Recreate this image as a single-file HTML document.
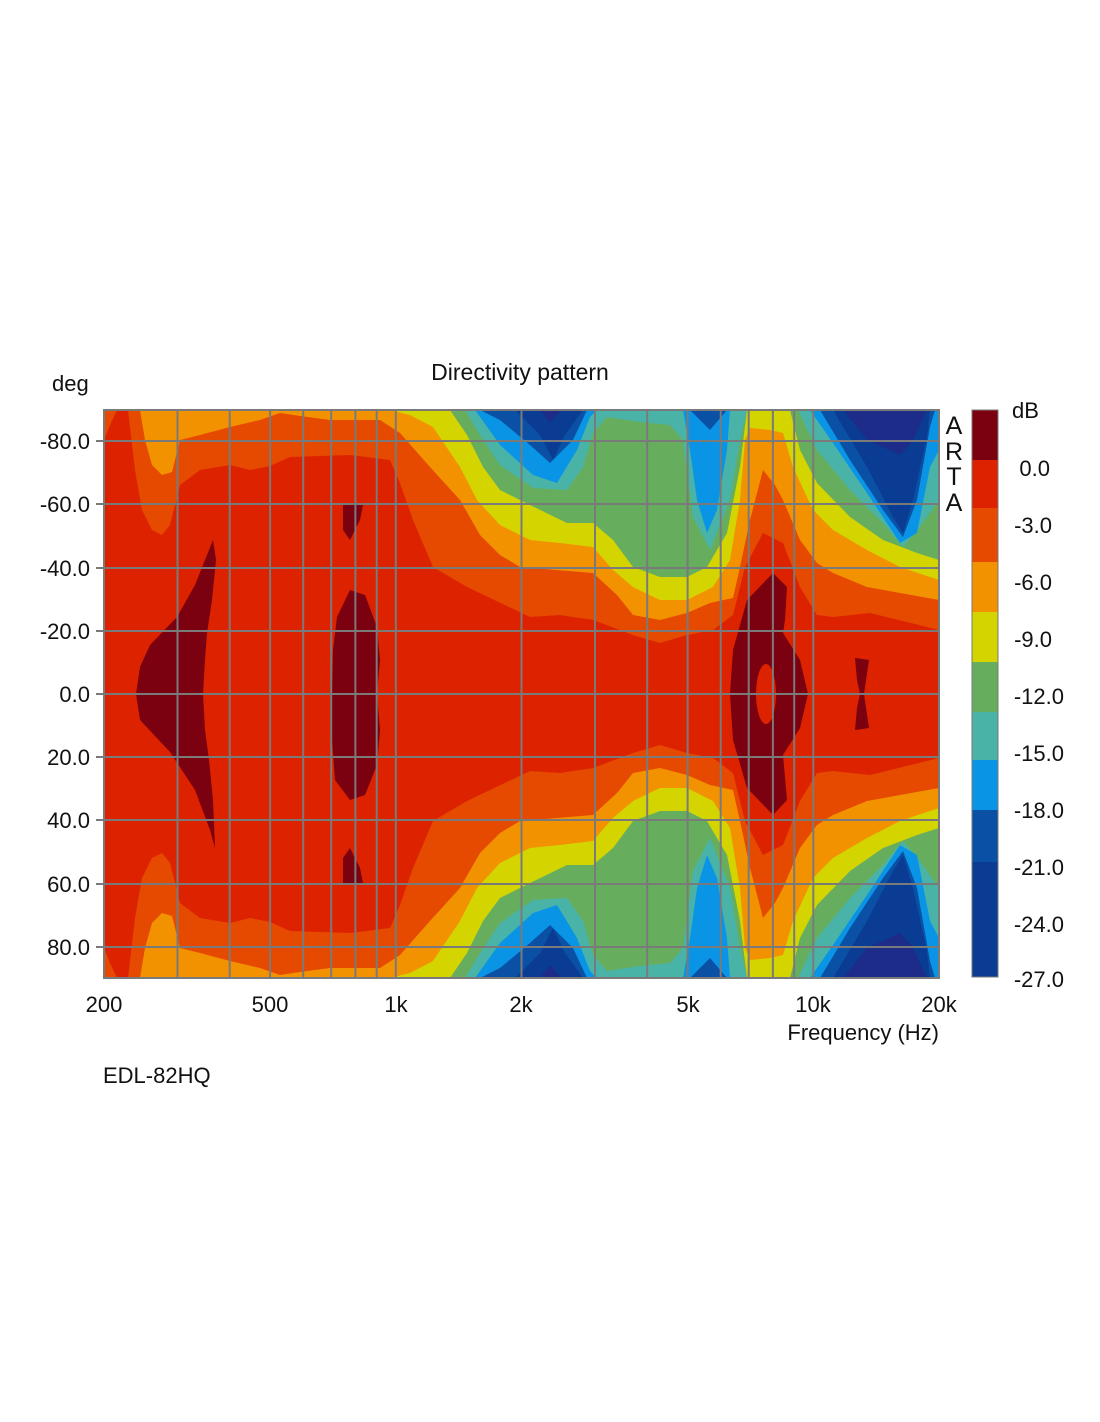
<!DOCTYPE html>
<html><head><meta charset="utf-8"><style>
html,body{margin:0;padding:0;background:#fff;}
svg{display:block;}
text{font-family:"Liberation Sans",Arial,sans-serif;fill:#111;}
</style></head><body>
<svg width="1100" height="1422" viewBox="0 0 1100 1422" xmlns="http://www.w3.org/2000/svg">
<defs>
<clipPath id="pc"><rect x="104" y="410" width="835" height="568"/></clipPath>
<g id="up" transform="translate(0,410)">
<polygon fill="#e54a00" points="104,0 104,30 110,15 117,0"/>
<polygon fill="#e54a00" points="128,0 135,60 142,100 152,120 162,125 170,115 180,75 200,60 230,55 250,60 270,56 290,47 350,45 390,50 400,73 413,110 433,157 467,177 530,207 560,205 593,210 633,225 660,233 687,225 713,220 733,205 745,157 763,123 783,133 800,177 817,205 833,207 870,203 939,220 939,0"/>
<polygon fill="#f39200" points="140,0 145,30 152,55 162,65 172,62 180,30 200,25 230,17 260,10 280,3 300,6 330,10 380,10 400,23 430,57 460,90 480,125 500,145 520,157 593,163 617,185 633,205 660,210 687,203 710,193 733,188 740,157 750,110 763,60 775,75 783,90 800,130 817,153 833,163 867,177 939,190 939,0"/>
<polygon fill="#d4d400" points="390,0 410,5 433,17 460,57 477,90 500,115 530,130 560,133 593,137 613,160 633,177 660,190 687,190 713,177 730,150 740,90 745,30 750,18 770,20 783,23 793,57 813,100 833,120 867,140 900,157 939,170 939,0"/>
<polygon fill="#66ae5e" points="450,0 467,25 483,57 500,80 530,95 567,113 593,113 613,130 633,157 660,167 687,167 707,157 727,123 740,57 747,0"/>
<polygon fill="#66ae5e" points="790,0 800,40 817,73 850,107 883,130 917,143 939,150 939,0"/>
<polygon fill="#4ab3a8" points="465,0 480,25 500,55 533,78 567,80 583,57 593,23 607,7 640,12 670,15 683,30 693,107 710,140 722,110 730,90 740,30 747,0"/>
<polygon fill="#4ab3a8" points="798,0 817,40 850,80 883,113 903,137 920,117 939,90 939,0"/>
<polygon fill="#0a94e6" points="475,0 500,35 533,65 557,73 577,40 590,7 597,0"/>
<polygon fill="#0a94e6" points="683,0 690,40 697,90 707,123 717,100 727,40 730,0"/>
<polygon fill="#0a94e6" points="810,0 833,33 867,83 900,133 917,123 930,57 939,40 939,0"/>
<polygon fill="#0a50a4" points="480,0 500,10 530,35 550,53 573,30 587,0"/>
<polygon fill="#0a50a4" points="690,0 710,20 727,0"/>
<polygon fill="#0a50a4" points="820,0 850,50 883,100 903,127 917,90 930,17 935,0"/>
<polygon fill="#0a3c94" points="515,0 540,25 553,50 565,25 583,0"/>
<polygon fill="#0a3c94" points="833,0 867,57 893,107 903,123 913,90 927,27 930,0"/>
<polygon fill="#1c2c88" points="540,0 550,13 562,0"/>
<polygon fill="#1c2c88" points="843,0 867,30 900,45 912,32 927,0"/>
</g>
</defs>
<g clip-path="url(#pc)">
<rect x="104" y="410" width="835" height="568" fill="#dd2200"/>
<use href="#up"/>
<use href="#up" transform="matrix(1,0,0,-1,0,1388)"/>
<g fill="#7b0010">
<polygon points="213,540 216,560 212,600 207,633 205,660 203,694 205,730 209,760 213,800 215,848 210,830 195,790 170,752 140,720 136,694 140,667 150,645 177,617 195,585"/>
<polygon points="350,590 365,595 377,627 380,660 377,694 380,730 377,765 365,795 350,800 335,780 332,740 332,694 333,650 337,617"/>
<polygon points="343,503 363,505 360,520 350,540 343,530"/>
<polygon points="343,885 363,883 360,868 350,848 343,858"/>
<polygon points="773,573 787,587 785,620 783,633 800,660 808,694 800,728 783,755 787,800 773,815 747,788 733,740 730,694 733,650 747,600"/>
<polygon points="855,658 869,660 866,680 864,694 866,708 869,728 855,730 857,708 860,694 857,680"/>
</g>
<ellipse cx="766" cy="694" rx="10" ry="30" fill="#dd2200"/>
</g>
<g stroke="#7a7a7a" stroke-width="2" fill="none">
<rect x="104" y="410" width="835" height="568"/>
<path d="M177.5 410V978M229.7 410V978M270.1 410V978M303.2 410V978M331.2 410V978M355.4 410V978M376.7 410V978M395.8 410V978M521.5 410V978M595 410V978M647.2 410V978M687.6 410V978M720.7 410V978M748.7 410V978M772.9 410V978M794.2 410V978M813.3 410V978"/>
<path d="M96 441H939M96 504H939M96 568H939M96 631H939M96 694H939M96 757H939M96 820H939M96 884H939M96 947H939"/>
</g>
<g font-size="22" text-anchor="end">
<text x="90" y="449">-80.0</text>
<text x="90" y="512">-60.0</text>
<text x="90" y="576">-40.0</text>
<text x="90" y="639">-20.0</text>
<text x="90" y="702">0.0</text>
<text x="90" y="765">20.0</text>
<text x="90" y="828">40.0</text>
<text x="90" y="892">60.0</text>
<text x="90" y="955">80.0</text>
</g>
<text x="52" y="391" font-size="22">deg</text>
<text x="520" y="380" font-size="23" text-anchor="middle">Directivity pattern</text>
<g font-size="22" text-anchor="middle">
<text x="104" y="1012">200</text>
<text x="270" y="1012">500</text>
<text x="396" y="1012">1k</text>
<text x="521" y="1012">2k</text>
<text x="688" y="1012">5k</text>
<text x="813" y="1012">10k</text>
<text x="939" y="1012">20k</text>
</g>
<text x="939" y="1040" font-size="22" text-anchor="end">Frequency (Hz)</text>
<text x="103" y="1083" font-size="22">EDL-82HQ</text>
<g font-size="25" text-anchor="middle">
<text x="954" y="434">A</text>
<text x="954" y="460">R</text>
<text x="954" y="485">T</text>
<text x="954" y="511">A</text>
</g>
<rect x="972" y="410" width="26" height="50" fill="#7b0010"/>
<rect x="972" y="460" width="26" height="48" fill="#dd2200"/>
<rect x="972" y="508" width="26" height="54" fill="#e54a00"/>
<rect x="972" y="562" width="26" height="50" fill="#f39200"/>
<rect x="972" y="612" width="26" height="50" fill="#d4d400"/>
<rect x="972" y="662" width="26" height="50" fill="#66ae5e"/>
<rect x="972" y="712" width="26" height="48" fill="#4ab3a8"/>
<rect x="972" y="760" width="26" height="50" fill="#0a94e6"/>
<rect x="972" y="810" width="26" height="52" fill="#0a50a4"/>
<rect x="972" y="862" width="26" height="115" fill="#0a3c94"/>
<rect x="972" y="410" width="26" height="567" fill="none" stroke="#7a7a7a" stroke-width="1"/>
<g font-size="22" text-anchor="end">
<text x="1012" y="418" text-anchor="start">dB</text>
<text x="1050" y="476">0.0</text>
<text x="1052" y="533">-3.0</text>
<text x="1052" y="590">-6.0</text>
<text x="1052" y="647">-9.0</text>
<text x="1064" y="704">-12.0</text>
<text x="1064" y="761">-15.0</text>
<text x="1064" y="818">-18.0</text>
<text x="1064" y="875">-21.0</text>
<text x="1064" y="932">-24.0</text>
<text x="1064" y="987">-27.0</text>
</g>
</svg>
</body></html>
